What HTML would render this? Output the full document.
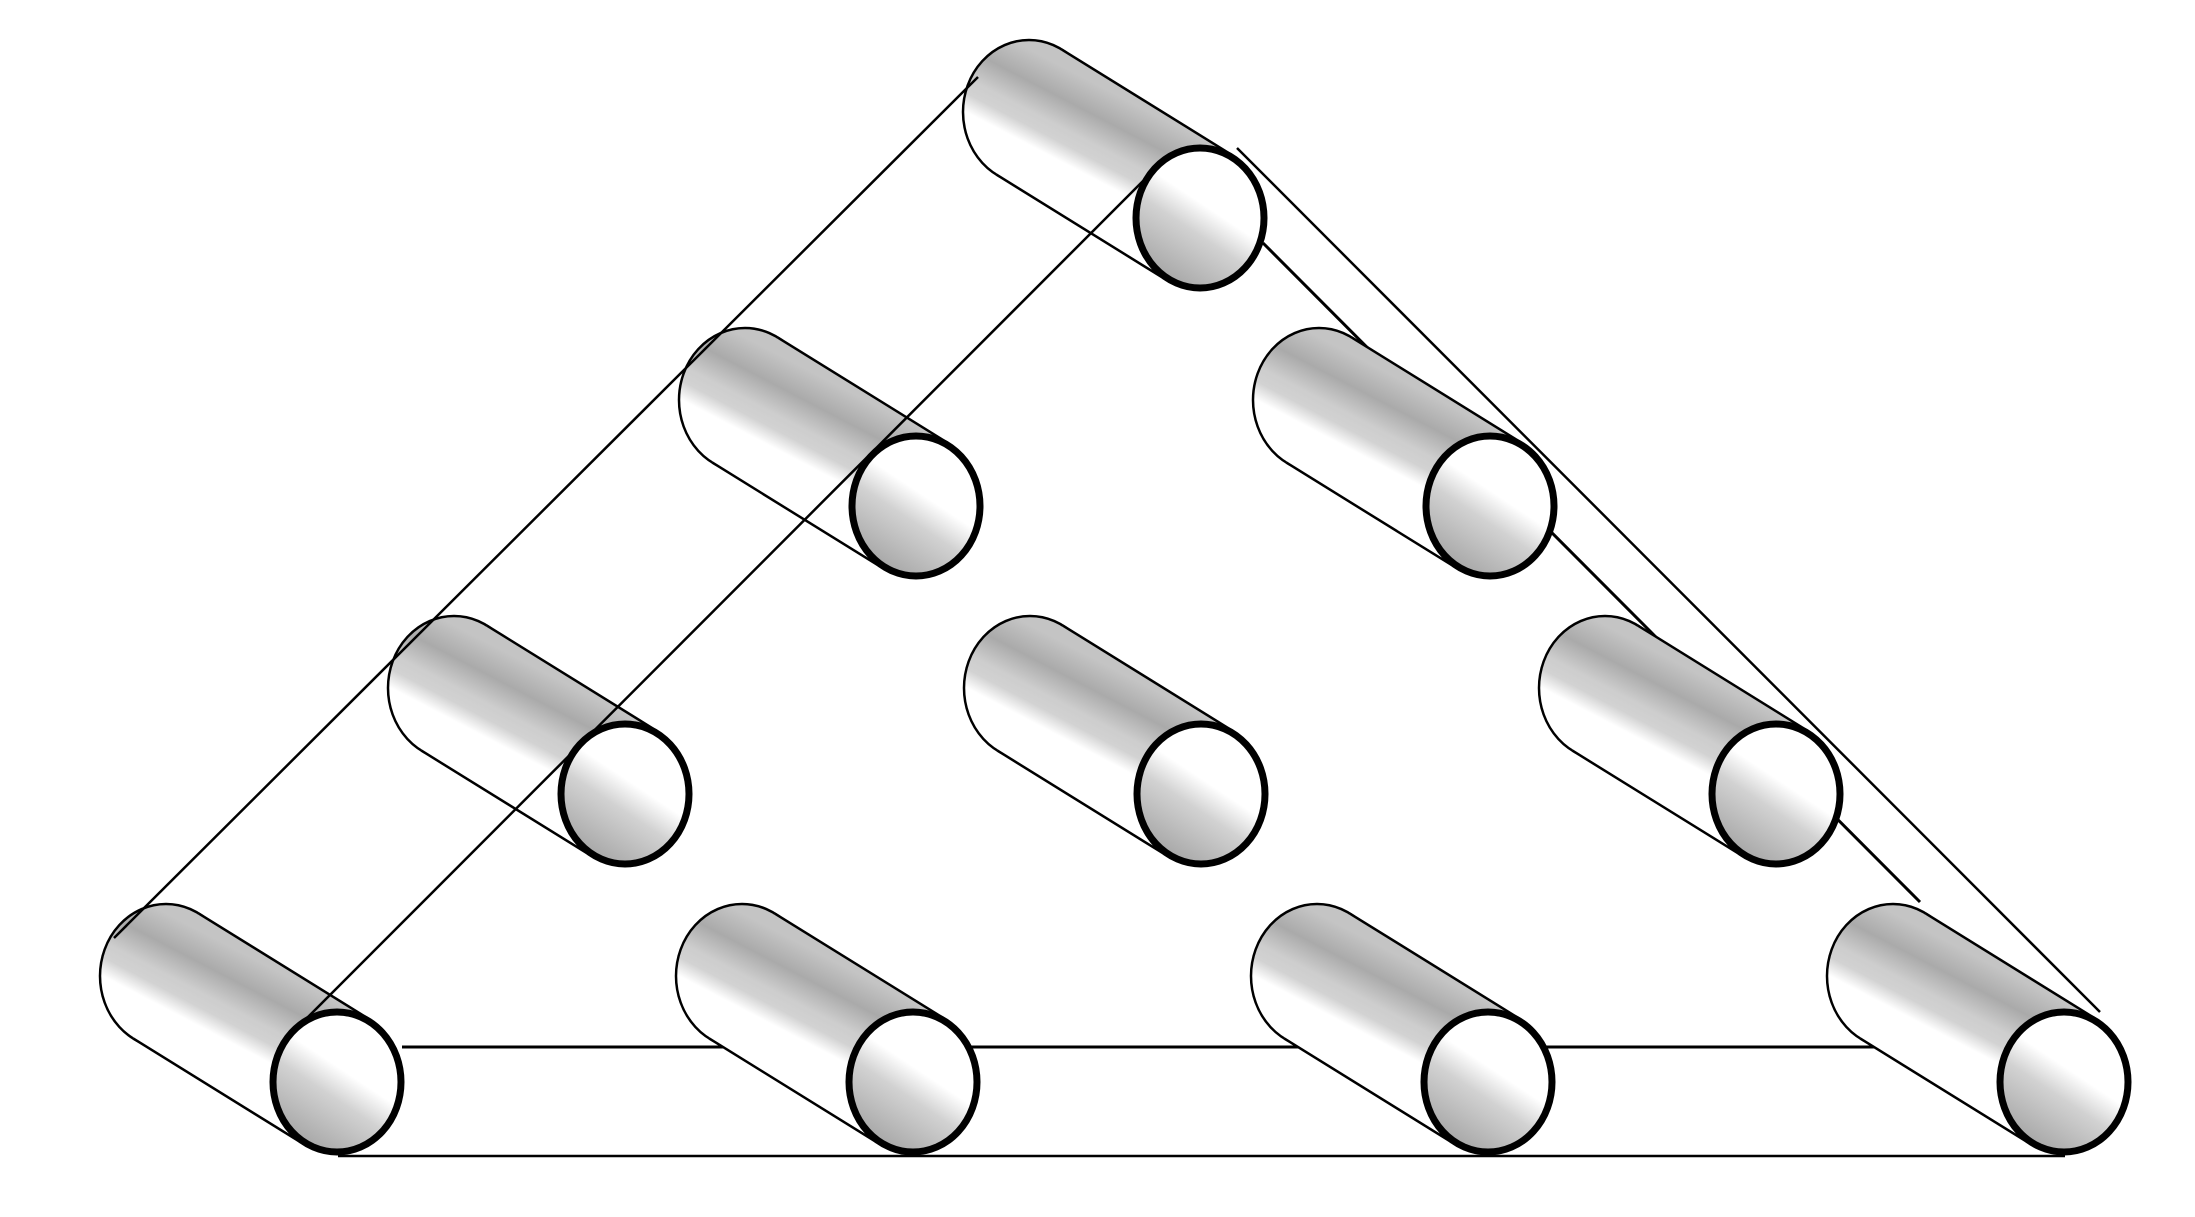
<!DOCTYPE html>
<html><head><meta charset="utf-8"><style>html,body{margin:0;padding:0;background:#fff}svg{display:block}</style></head>
<body>
<svg id="fig" width="2195" height="1217" viewBox="0 0 2195 1217" xmlns="http://www.w3.org/2000/svg">
<defs></defs>
<g id="back"></g>
<g id="cyls"></g>
<g id="front"></g>
</svg>
<script>
const cylX = [337, 913, 1488, 2064, 625, 1201, 1776, 916, 1490, 1200];
const cylY = [1082, 1082, 1082, 1082, 794, 794, 794, 506, 506, 218];
const backLines = [[1263,243,1920,902],[402,1047,1880,1047]];
const frontLines = [[114,938,978,77],[305,1020,1167,157],[1237,148,2100,1012],[338,1156,2065,1156]];
const NS='http://www.w3.org/2000/svg';
const svg=document.getElementById('fig'), defs=svg.querySelector('defs');
function mk(t,a,p){const e=document.createElementNS(NS,t);for(const k in a)e.setAttribute(k,a[k]);if(p)p.appendChild(e);return e;}
function line(g,l,w){const e=mk('line',{x1:l[0],y1:l[1],x2:l[2],y2:l[3],stroke:'#000','stroke-width':w},g);

}
backLines.forEach(l=>line(document.getElementById('back'),l,3));
const RX=66, RY=72, DX=171, DY=106, TX=32.6, TY=62.6;
const cg=document.getElementById('cyls');
cylX.forEach((fx,i)=>{
  const fy=cylY[i], bx=fx-DX, by=fy-DY;
  const g=mk('g',{},cg);
  
  
  const gb=mk('linearGradient',{id:'gb'+i,gradientUnits:'userSpaceOnUse',x1:fx+TX,y1:fy-TY,x2:fx-TX,y2:fy+TY},defs);
  [[0,'#c4c4c4'],[0.2,'#aaaaaa'],[0.38,'#cdcdcd'],[0.48,'#d2d2d2'],[0.6,'#ffffff'],[1,'#ffffff']].forEach(s=>mk('stop',{offset:s[0],'stop-color':s[1]},gb));
  const gf=mk('linearGradient',{id:'gf'+i,gradientUnits:'userSpaceOnUse',x1:fx+35,y1:fy-50,x2:fx-35,y2:fy+55},defs);
  [[0,'#ffffff'],[0.38,'#ffffff'],[0.6,'#d2d2d2'],[1,'#aaaaaa']].forEach(s=>mk('stop',{offset:s[0],'stop-color':s[1]},gf));
  mk('ellipse',{cx:bx,cy:by,rx:RX,ry:RY,fill:'url(#gb'+i+')',stroke:'#000','stroke-width':2.5},g);
  mk('polygon',{points:`${bx+TX},${by-TY} ${fx+TX},${fy-TY} ${fx-TX},${fy+TY} ${bx-TX},${by+TY}`,fill:'url(#gb'+i+')'},g);
  mk('line',{x1:bx+TX,y1:by-TY,x2:fx+TX,y2:fy-TY,stroke:'#000','stroke-width':2.5},g);
  mk('line',{x1:bx-TX,y1:by+TY,x2:fx-TX,y2:fy+TY,stroke:'#000','stroke-width':2.5},g);
  const f=mk('ellipse',{cx:fx,cy:fy,rx:RX-2,ry:RY-2,fill:'url(#gf'+i+')',stroke:'#000','stroke-width':7},g);
  
  
});
frontLines.forEach(l=>line(document.getElementById('front'),l,2.5));
</script>
</body></html>
